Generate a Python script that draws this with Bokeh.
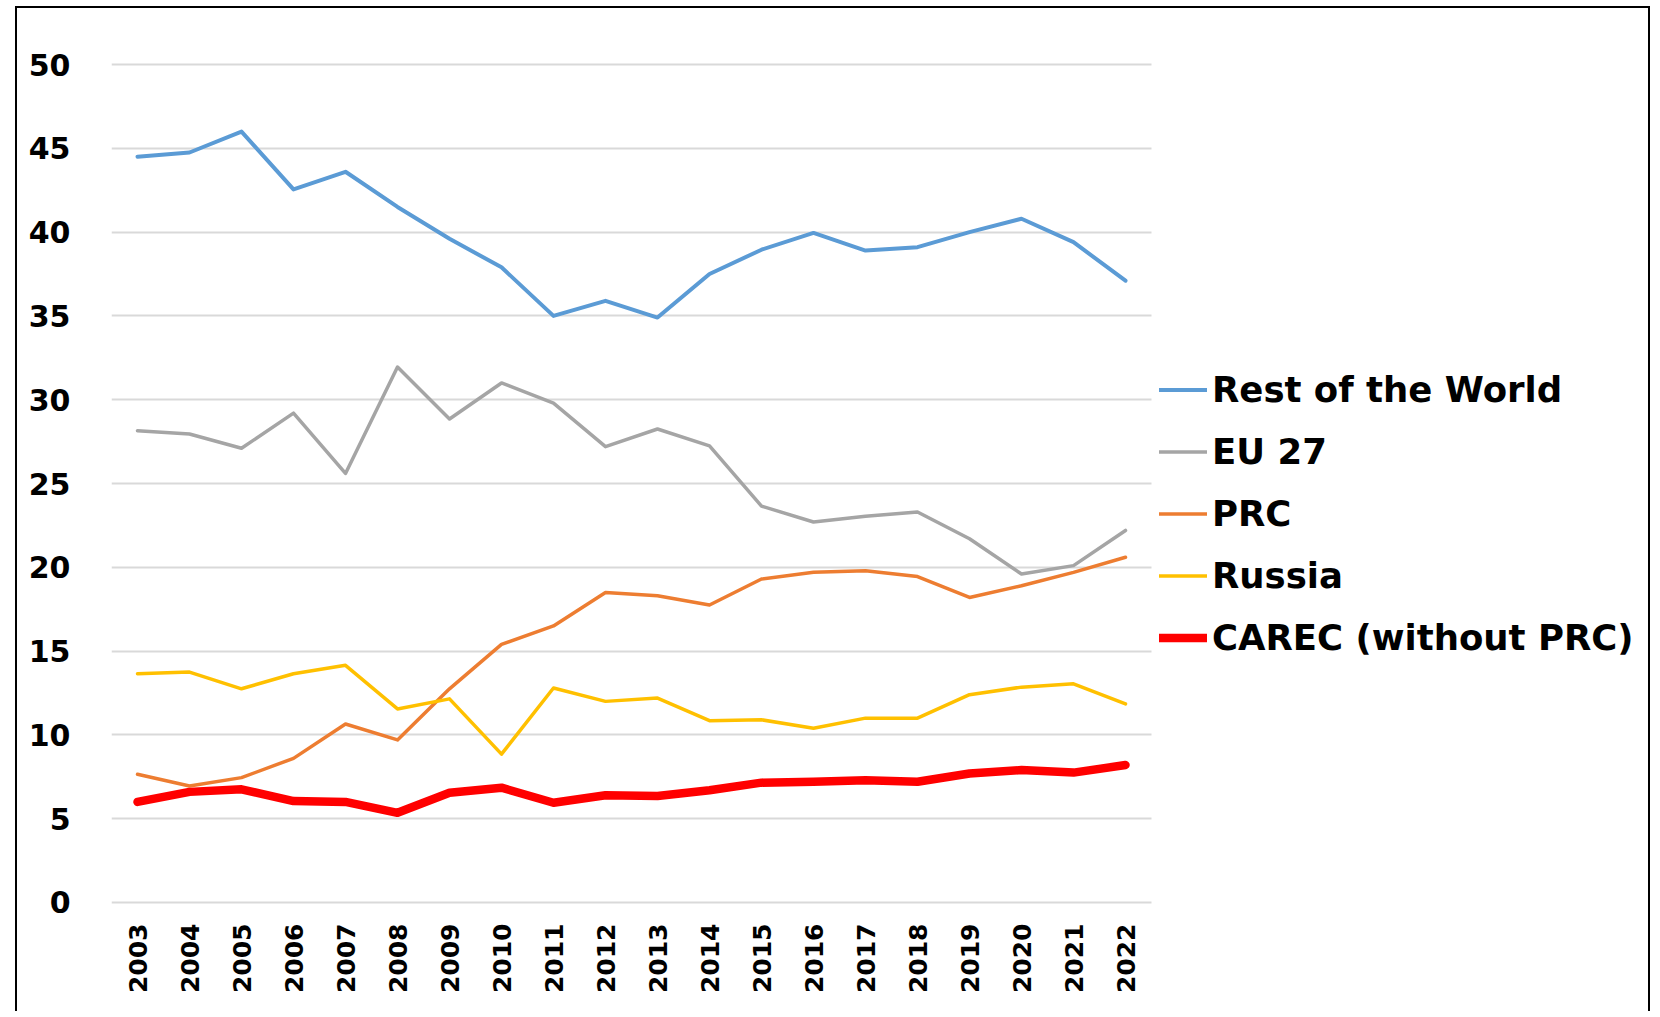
import math
from bokeh.plotting import figure
from bokeh.models import Range1d, FixedTicker, Legend, LegendItem, ColumnDataSource
from bokeh.embed import file_html
from bokeh.resources import INLINE

years = list(range(2003, 2023))

rest_of_world = [44.5, 44.75, 46.0, 42.55, 43.6, 41.5, 39.6, 37.9, 35.0, 35.9,
                 34.9, 37.5, 38.95, 39.95, 38.9, 39.1, 40.0, 40.8, 39.4, 37.1]
eu27 = [28.15, 27.95, 27.1, 29.2, 25.6, 31.95, 28.85, 31.0, 29.8, 27.2,
        28.25, 27.25, 23.65, 22.7, 23.05, 23.3, 21.7, 19.6, 20.1, 22.2]
prc = [7.65, 6.95, 7.45, 8.6, 10.65, 9.7, 12.75, 15.4, 16.5, 18.5,
       18.3, 17.75, 19.3, 19.7, 19.8, 19.45, 18.2, 18.9, 19.7, 20.6]
russia = [13.65, 13.75, 12.75, 13.65, 14.15, 11.55, 12.15, 8.85, 12.8, 12.0,
          12.2, 10.85, 10.9, 10.4, 11.0, 11.0, 12.4, 12.85, 13.05, 11.85]
carec = [6.0, 6.6, 6.75, 6.05, 6.0, 5.35, 6.55, 6.85, 5.95, 6.4,
         6.35, 6.7, 7.15, 7.2, 7.3, 7.2, 7.7, 7.9, 7.75, 8.2]

series_names = ["Rest of the World", "EU 27", "PRC", "Russia", "CAREC (without PRC)"]
series_values = [rest_of_world, eu27, prc, russia, carec]
series_colors = ["#5B9BD5", "#A5A5A5", "#ED7D31", "#FFC000", "#FF0000"]
series_widths = [4, 3.5, 3.5, 3.5, 8.5]

y_ticks = list(range(0, 51, 5))

FONT = "DejaVu Sans"

# plot area spans the category bins 2002.5..2022.5 (52 px each);
# the canvas continues to the right to hold the legend
x_start = years[0] - 0.5
x_last = years[-1] + 0.5
x_end = x_start + (1635 - 94) / 52.0

p = figure(
    width=1635, height=1005,
    x_range=Range1d(x_start, x_end),
    y_range=Range1d(-0.12, 50.12),
    output_backend="svg", toolbar_location=None,
    min_border_left=94, min_border_right=0,
    min_border_top=54, min_border_bottom=109,
)
p.margin = (6, 0, 0, 15)
p.styles = {
    "border-left": "2px solid black",
    "border-top": "2px solid black",
    "border-right": "2px solid black",
}
p.outline_line_color = None
p.background_fill_color = "white"
p.border_fill_color = "white"

items = []
for name, vals, col, w in zip(series_names, series_values, series_colors, series_widths):
    src = ColumnDataSource(dict(x=years, y=vals))
    r = p.line("x", "y", source=src, line_color=col, line_width=w,
               line_join="round", line_cap="round")
    items.append(LegendItem(label=name, renderers=[r]))

# axes
p.yaxis.ticker = FixedTicker(ticks=y_ticks)
p.yaxis.axis_line_color = None
p.yaxis.major_tick_line_color = None
p.yaxis.minor_tick_line_color = None
p.yaxis.major_label_standoff = 35
p.yaxis.major_label_text_font = FONT
p.yaxis.major_label_text_font_style = "bold"
p.yaxis.major_label_text_font_size = "30px"
p.yaxis.major_label_text_color = "black"

p.xaxis.ticker = FixedTicker(ticks=years)
p.xaxis.axis_line_color = None
p.xaxis.major_tick_line_color = None
p.xaxis.minor_tick_line_color = None
p.xaxis.major_label_orientation = math.pi / 2
p.xaxis.major_label_standoff = 13
p.xaxis.major_label_text_font = FONT
p.xaxis.major_label_text_font_style = "bold"
p.xaxis.major_label_text_font_size = "25px"
p.xaxis.major_label_text_color = "black"

p.xgrid.grid_line_color = None
p.ygrid.grid_line_color = "#D9D9D9"
p.ygrid.grid_line_width = 2
p.ygrid.cross_bounds = (x_start, x_last)

legend = Legend(
    items=items, location=(1048, 246),
    padding=0, margin=0, spacing=21,
    glyph_width=48, glyph_height=41, label_height=41, label_standoff=5,
    label_text_font=FONT, label_text_font_style="bold",
    label_text_font_size="35.5px", label_text_color="black",
    border_line_color=None, background_fill_alpha=0,
)
p.add_layout(legend, "center")

open("out.html", "w").write(file_html(p, INLINE))
